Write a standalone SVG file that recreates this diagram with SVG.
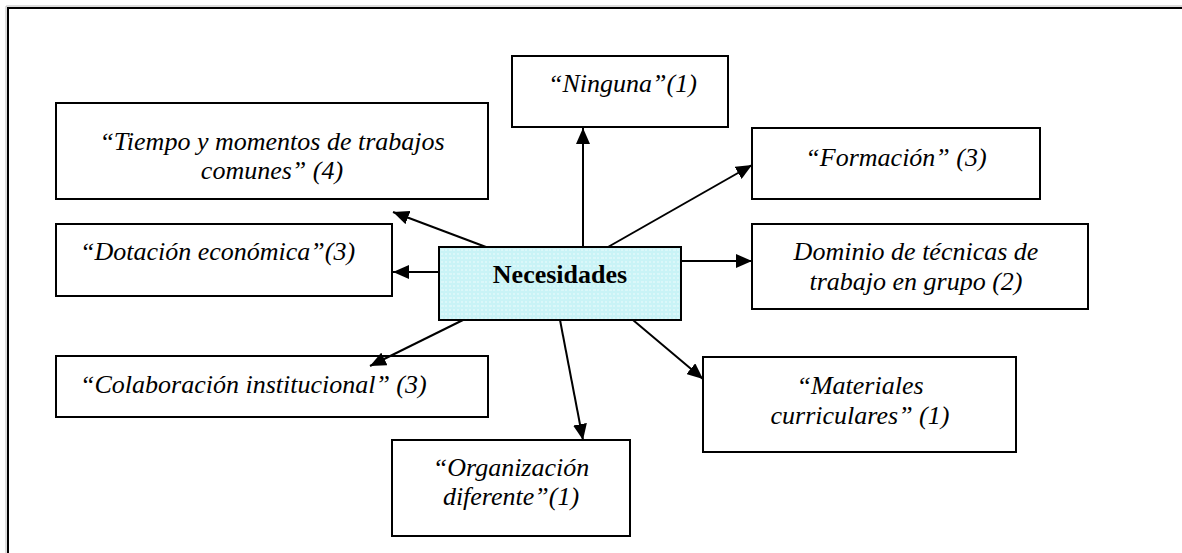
<svg xmlns="http://www.w3.org/2000/svg" width="1182" height="553" viewBox="0 0 1182 553">
<style>
.box{fill:#fff;stroke:#000;stroke-width:2}
.t{font-family:"Liberation Serif","Times New Roman",serif;font-style:italic;font-size:26px;fill:#000}
.c{text-anchor:middle}
.hub{font-family:"Liberation Serif","Times New Roman",serif;font-weight:bold;font-size:26px;fill:#000;text-anchor:middle}
.ln{stroke:#000;stroke-width:2;fill:none;marker-end:url(#ah)}
</style>
<defs>
<marker id="ah" markerUnits="userSpaceOnUse" markerWidth="16" markerHeight="14" refX="16" refY="7" orient="auto">
<path d="M0,0 L16,7 L0,14 z" fill="#000"/>
</marker>
<pattern id="pat" width="8" height="8" patternUnits="userSpaceOnUse">
<rect width="8" height="8" fill="#c9f3f6"/>
<path d="M1,2 h3 M5,6 h2 M2,5 v2 M6,1 v2" stroke="#eefcfd" stroke-width="1"/>
</pattern>
</defs>
<rect width="1182" height="553" fill="#fff"/>
<path d="M6,553 V6 H1182" fill="none" stroke="#bbb" stroke-width="1"/>
<path d="M8,553 V8 H1182" fill="none" stroke="#000" stroke-width="2"/>
<g id="necesidades">
<rect x="439" y="247" width="242" height="73" fill="url(#pat)" stroke="#000" stroke-width="2"/>
<text class="hub" x="560" y="283">Necesidades</text>
</g>
<g id="ninguna">
<rect class="box" x="512" y="56" width="216" height="71"/>
<text class="t" x="548" y="92">“Ninguna”(1)</text>
</g>
<g id="tiempo">
<rect class="box" x="56" y="103" width="432" height="96"/>
<text class="t c" x="272" y="150">“Tiempo y momentos de trabajos</text>
<text class="t c" x="272" y="179">comunes” (4)</text>
</g>
<g id="formacion">
<rect class="box" x="752" y="128" width="288" height="71"/>
<text class="t c" x="896" y="166">“Formación” (3)</text>
</g>
<g id="dotacion">
<rect class="box" x="56" y="224" width="336" height="72"/>
<text class="t" x="80" y="260">“Dotación económica”(3)</text>
</g>
<g id="dominio">
<rect class="box" x="752" y="224" width="336" height="85"/>
<text class="t c" x="916" y="260">Dominio de técnicas de</text>
<text class="t c" x="916" y="290">trabajo en grupo (2)</text>
</g>
<g id="colaboracion">
<rect class="box" x="56" y="356" width="432" height="61"/>
<text class="t" x="80" y="393">“Colaboración institucional” (3)</text>
</g>
<g id="materiales">
<rect class="box" x="703" y="357" width="313" height="95"/>
<text class="t c" x="860" y="394">“Materiales</text>
<text class="t c" x="860" y="424">curriculares” (1)</text>
</g>
<g id="organizacion">
<rect class="box" x="392" y="440" width="238" height="96"/>
<text class="t c" x="511" y="476">“Organización</text>
<text class="t c" x="511" y="505">diferente”(1)</text>
</g>
<g id="connectors">
<line class="ln" x1="583" y1="247" x2="583" y2="128"/>
<line class="ln" x1="608" y1="247" x2="752" y2="165"/>
<line class="ln" x1="681" y1="261" x2="752" y2="261"/>
<line class="ln" x1="633" y1="320" x2="703" y2="379"/>
<line class="ln" x1="560" y1="320" x2="583" y2="440"/>
<line class="ln" x1="463" y1="320" x2="370" y2="366"/>
<line class="ln" x1="439" y1="272" x2="393" y2="272"/>
<line class="ln" x1="486" y1="247" x2="393" y2="212"/>
</g>
</svg>
